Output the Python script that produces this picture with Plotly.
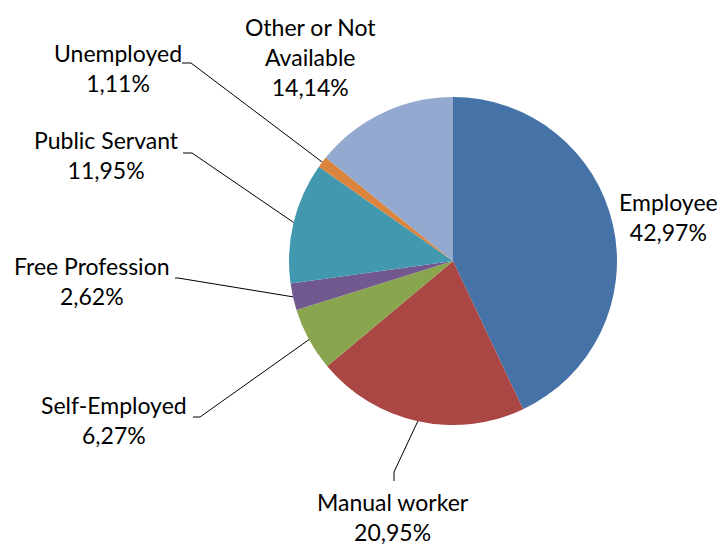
import math
import plotly.graph_objects as go

categories = ["Employee", "Manual worker", "Self-Employed", "Free Profession",
              "Public Servant", "Unemployed", "Other or Not Available"]
values = [42.97, 20.95, 6.27, 2.62, 11.95, 1.11, 14.14]
label_texts = ["Employee", "Manual worker", "Self-Employed", "Free Profession",
               "Public Servant", "Unemployed", "Other or Not<br>Available"]
colors = ["#4572A7", "#AA4643", "#89A54E", "#71588F", "#4198AF", "#DB843D", "#93A9CF"]

W, H = 720, 547
CX, CY, R = 453, 261, 164

# label layout (pixel positions of label centres, and leader line elbow points)
label_pos = {
    "Employee": (668, 217),
    "Manual worker": (393, 517),
    "Self-Employed": (114, 420),
    "Free Profession": (92, 281),
    "Public Servant": (106, 155),
    "Unemployed": (118, 68),
    "Other or Not Available": (310, 57),
}
leader = {
    "Manual worker": [(394, 481), (394, 472)],
    "Self-Employed": [(193, 417), (200, 417)],
    "Free Profession": [(175, 278), (178, 278)],
    "Public Servant": [(183, 153), (192, 153)],
    "Unemployed": [(182, 63), (191, 63)],
}


def px(x, y):
    return x / W, 1 - y / H


fig = go.Figure()
fig.add_trace(go.Pie(
    labels=categories, values=values, sort=False, direction="clockwise",
    rotation=0, textinfo="none", hoverinfo="label+percent",
    marker=dict(colors=colors, line=dict(width=0)),
    domain=dict(x=[(CX - R) / W, (CX + R) / W],
                y=[1 - (CY + R) / H, 1 - (CY - R) / H]),
    showlegend=False,
))

total = sum(values)
cum = 0.0
shapes = []
annotations = []
for cat, val, txt in zip(categories, values, label_texts):
    mid = (cum + val / 2) / total * 2 * math.pi
    cum += val
    ex = CX + R * math.sin(mid)
    ey = CY - R * math.cos(mid)
    pct = f"{val:.2f}".replace(".", ",") + "%"
    lx, ly = label_pos[cat]
    ax, ay = px(lx, ly)
    annotations.append(dict(
        x=ax, y=ay, xref="paper", yref="paper", showarrow=False,
        text=f"{txt}<br>{pct}", align="center", xanchor="center", yanchor="middle",
        font=dict(family="Lato", size=23, color="#000000"),
    ))
    if cat in leader:
        pts = leader[cat] + [(ex, ey)]
        for (x0, y0), (x1, y1) in zip(pts[:-1], pts[1:]):
            p0 = px(x0, y0)
            p1 = px(x1, y1)
            shapes.append(dict(type="line", xref="paper", yref="paper",
                               x0=p0[0], y0=p0[1], x1=p1[0], y1=p1[1],
                               line=dict(color="#000000", width=1)))

fig.update_layout(
    width=W, height=H, margin=dict(l=0, r=0, t=0, b=0),
    paper_bgcolor="white", plot_bgcolor="white",
    shapes=shapes, annotations=annotations,
)
fig.write_html("out.html", config={"displayModeBar": False},
               post_script="document.body.style.margin='0';document.body.style.overflow='hidden';")
